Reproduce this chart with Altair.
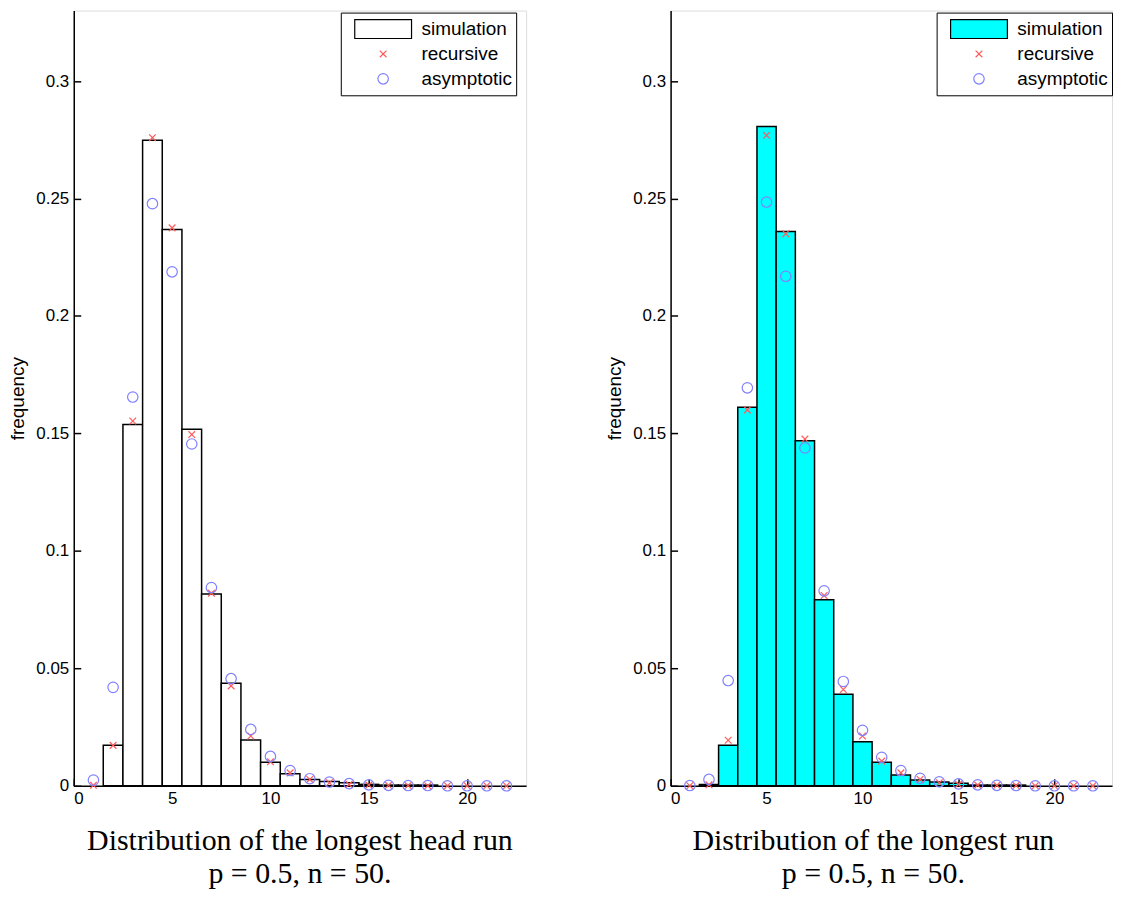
import altair as alt
import pandas as pd

runs = list(range(1, 23))

# Left panel: longest head run
sim_head = [0, 0.0173, 0.1538, 0.2748, 0.2368, 0.1518, 0.0816, 0.0437, 0.0195, 0.0100, 0.0051,
            0.0027, 0.0018, 0.0013, 0.0006, 0.0003, 0.0003, 0.0003, 0, 0, 0, 0]
rec_head = [0.0002, 0.0172, 0.1553, 0.2759, 0.2375, 0.1495, 0.0820, 0.0425, 0.0212, 0.0102, 0.0055,
            0.0027, 0.0013, 0.0006, 0.0003, 0.0002, 0.0001, 0.0, 0, 0, 0, 0]
asy_head = [0.0024, 0.0419, 0.1655, 0.2478, 0.2188, 0.1455, 0.0844, 0.0456, 0.0240, 0.0125, 0.0065,
            0.0030, 0.0016, 0.0009, 0.0004, 0.0002, 0.0001, 0.0001, 0, 0, 0, 0]

# Right panel: longest run
sim_run = [0, 0.0006, 0.0173, 0.1611, 0.2807, 0.2360, 0.1469, 0.0792, 0.0390, 0.0187, 0.0100,
           0.0046, 0.0025, 0.0016, 0.0011, 0.0003, 0.0003, 0.0003, 0, 0, 0, 0]
rec_run = [0.0, 0.0004, 0.0194, 0.1600, 0.2769, 0.2350, 0.1476, 0.0810, 0.0410, 0.0212, 0.0105,
           0.0055, 0.0027, 0.0013, 0.0006, 0.0003, 0.0002, 0.0001, 0, 0, 0, 0]
asy_run = [0.0001, 0.0027, 0.0448, 0.1694, 0.2485, 0.2169, 0.1438, 0.0830, 0.0444, 0.0236, 0.0121,
           0.0065, 0.0032, 0.0017, 0.0008, 0.0004, 0.0002, 0.0001, 0, 0, 0, 0]

series_names = ["simulation", "recursive", "asymptotic"]
x_ticks = [0, 5, 10, 15, 20]
y_ticks = [0, 0.05, 0.1, 0.15, 0.2, 0.25, 0.3]

RED = "#ff5a5a"
BLUE = "#8080ff"
RECT_PATH = "M-1,-0.333H1V0.333H-1Z"
X_PATH = "M-1,-1L1,1M-1,1L1,-1"
SANS = "Liberation Sans"
SERIF = "Liberation Serif"

H = 778


def panel(sim, rec, asy, fill, title, width, lx, ly, dx):
    bars = pd.DataFrame({"run": runs, "freq": sim, "series": "simulation"})
    bars = bars[bars["freq"] > 0]
    pts = pd.DataFrame({
        "run": runs + runs,
        "freq": rec + asy,
        "series": ["recursive"] * len(runs) + ["asymptotic"] * len(runs),
    })
    legend = alt.Legend(
        title=None, orient="none", legendX=lx, legendY=ly,
        strokeColor="black", fillColor="white", padding=4,
        labelFont=SANS, labelFontSize=19, labelColor="black",
        labelOffset=9, symbolOffset=9, clipHeight=25, rowPadding=0,
        symbolStrokeWidth=1.2, symbolOpacity=1,
    )
    xs = alt.Scale(domain=[0, 23], nice=False, zero=False)
    ys = alt.Scale(domain=[0, 0.33], nice=False)
    fill_scale = alt.Scale(domain=series_names, range=[fill, "transparent", "transparent"])
    stroke_scale = alt.Scale(domain=series_names, range=["black", RED, BLUE])
    shape_scale = alt.Scale(domain=series_names, range=[RECT_PATH, X_PATH, "circle"])
    size_scale = alt.Scale(type="ordinal", domain=series_names, range=[3249, 45, 110])

    bar_layer = alt.Chart(bars).transform_calculate(
        x0="datum.run - 0.5", x1="datum.run + 0.5", y0="0"
    ).mark_bar(strokeWidth=1.5, opacity=1).encode(
        x=alt.X("x0:Q", scale=xs, axis=alt.Axis(
            orient="bottom", values=x_ticks, title=None, ticks=False, grid=False,
            domainColor="black", domainWidth=1.5, labelFont=SANS, labelFontSize=17,
            labelColor="black", labelPadding=5)),
        x2="x1:Q",
        y=alt.Y("freq:Q", scale=ys, axis=alt.Axis(
            orient="left", values=y_ticks, format=".2~f", title="frequency", ticks=False,
            grid=False, domainColor="black", domainWidth=1.5, labelFont=SANS,
            labelFontSize=17, labelColor="black", labelPadding=5, titleFont=SANS,
            titleFontSize=19, titleFontWeight="normal", titleColor="black", titlePadding=8)),
        y2="y0:Q",
        fill=alt.Fill("series:N", scale=fill_scale, legend=legend),
        stroke=alt.Stroke("series:N", scale=stroke_scale, legend=legend),
    )

    pt_layer = alt.Chart(pts).mark_point(filled=False, strokeWidth=1.2, opacity=1).encode(
        x=alt.X("run:Q", scale=xs, axis=alt.Axis(
            orient="top", offset=-H, values=x_ticks, labels=False, domain=False,
            ticks=True, tickSize=7, tickColor="black", tickWidth=1.5, grid=False, title=None)),
        y=alt.Y("freq:Q", scale=ys, axis=alt.Axis(
            orient="right", offset=-width, values=y_ticks, labels=False, domain=False,
            ticks=True, tickSize=7, tickColor="black", tickWidth=1.5, grid=False, title=None)),
        fill=alt.Fill("series:N", scale=fill_scale, legend=legend),
        stroke=alt.Stroke("series:N", scale=stroke_scale, legend=legend),
        shape=alt.Shape("series:N", scale=shape_scale, legend=legend),
        size=alt.Size("series:N", scale=size_scale, legend=legend),
    )

    return alt.layer(bar_layer, pt_layer).properties(
        width=width, height=H,
        title=alt.TitleParams(
            text=title, subtitle="p = 0.5, n = 50.", orient="bottom", anchor="middle",
            font=SERIF, fontSize=30, fontWeight="normal", color="black",
            subtitleFont=SERIF, subtitleFontSize=30, subtitleColor="black",
            subtitlePadding=4, offset=19, dx=dx),
    )


left = panel(sim_head, rec_head, asy_head, "white", "Distribution of the longest head run", 454, 268, 2, 0)
right = panel(sim_run, rec_run, asy_run, "#00ffff", "Distribution of the longest run", 443, 267, 2, -18)

chart = alt.hconcat(left, right, spacing=78).resolve_scale(
    fill="independent", stroke="independent", shape="independent", size="independent",
    x="independent", y="independent",
).resolve_legend(
    fill="independent", stroke="independent", shape="independent", size="independent",
).properties(padding=0).configure_view(stroke=None).configure(background="white")

chart.save("out.html", embed_options={"renderer": "svg", "actions": False})
